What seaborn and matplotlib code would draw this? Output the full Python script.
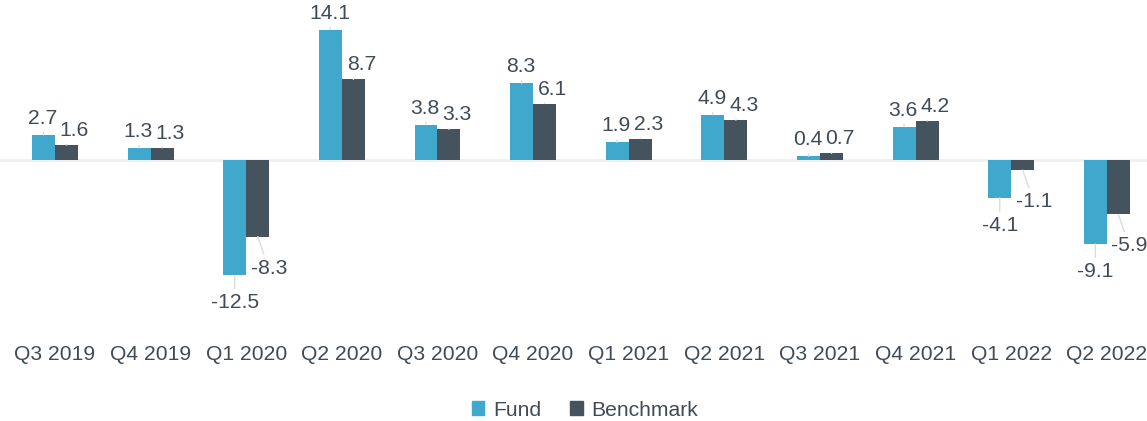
import numpy as np
import matplotlib
matplotlib.use('Agg')
import matplotlib.pyplot as plt
import pandas as pd
import seaborn as sns

# quarterly returns
quarters = ['Q3 2019', 'Q4 2019', 'Q1 2020', 'Q2 2020', 'Q3 2020', 'Q4 2020',
            'Q1 2021', 'Q2 2021', 'Q3 2021', 'Q4 2021', 'Q1 2022', 'Q2 2022']
fund = [2.7, 1.3, -12.5, 14.1, 3.8, 8.3, 1.9, 4.9, 0.4, 3.6, -4.1, -9.1]
benchmark = [1.6, 1.3, -8.3, 8.7, 3.3, 6.1, 2.3, 4.3, 0.7, 4.2, -1.1, -5.9]
series = ['Fund', 'Benchmark']
colors = ['#3fa8cc', '#44535e']
text_color = '#404b56'

df = pd.DataFrame({
    'Quarter': quarters * 2,
    'Return': fund + benchmark,
    'Series': ['Fund'] * len(quarters) + ['Benchmark'] * len(quarters),
})

sns.set_style('white')
plt.rcParams['font.family'] = ['Liberation Sans', 'DejaVu Sans']
fs = 15.2

fig = plt.figure(figsize=(11.47, 4.21), dpi=100)
ax = fig.add_axes([0, 0.214, 1, 0.786])

ax.axhline(0, color='#f0f0f0', lw=2, zorder=0)
sns.barplot(data=df, x='Quarter', y='Return', hue='Series', hue_order=series,
            palette=colors, width=0.48, saturation=1, linewidth=0, ax=ax, zorder=2)

# data labels with small leader lines
for i, cont in enumerate(ax.containers):
    vals = fund if i == 0 else benchmark
    for bar, v in zip(cont, vals):
        x = bar.get_x() + bar.get_width() / 2
        if v >= 0:
            off = (-1, 7) if i == 0 else (8, 5)
            va = 'bottom'
        else:
            off = (0, -18) if i == 0 else (11, -22)
            va = 'top'
        ax.annotate(f'{v:.1f}', xy=(x, v), xytext=off, textcoords='offset pixels',
                    ha='center', va=va, fontsize=fs, color=text_color,
                    arrowprops=dict(arrowstyle='-', color='#dcdcdc', lw=1,
                                    shrinkA=1, shrinkB=0))

ax.set_xlim(-0.575, 11.42)
ax.set_ylim(-18.5, 17.3)
ax.set_xlabel('')
ax.set_ylabel('')
ax.set_yticks([])
ax.tick_params(axis='x', length=0, pad=10, labelsize=fs, labelcolor=text_color)
sns.despine(ax=ax, left=True, bottom=True)

ax.legend_.remove()
handles = [plt.Rectangle((0, 0), 1, 1, color=c) for c in colors]
fig.legend(handles, series, loc='center', bbox_to_anchor=(0.51, 0.026),
           ncol=2, frameon=False, fontsize=fs, labelcolor=text_color,
           handlelength=0.6, handleheight=0.6, handletextpad=0.4, columnspacing=1.4)

plt.savefig('out.png', dpi=100)
